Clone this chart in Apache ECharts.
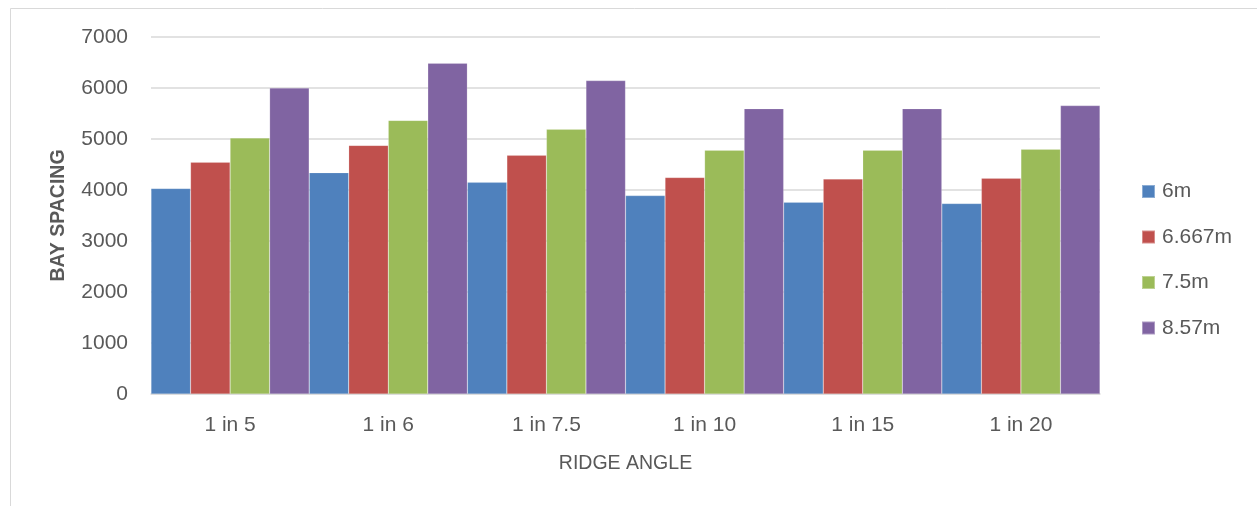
<!DOCTYPE html>
<html>
<head>
<meta charset="utf-8">
<script src="https://cdn.jsdelivr.net/npm/echarts@6/dist/echarts.min.js"></script>
<style>
  html, body { margin: 0; padding: 0; background: #fff; }
  #chart { width: 1257px; height: 506px; }
</style>
</head>
<body>
<div id="chart"></div>
<script>
// Ridge angle categories and bay spacing per span
const categories = ['1 in 5', '1 in 6', '1 in 7.5', '1 in 10', '1 in 15', '1 in 20'];
const seriesNames = ['6m', '6.667m', '7.5m', '8.57m'];
const span6 = [4030, 4340, 4150, 3890, 3760, 3735];
const span6667 = [4545, 4875, 4680, 4245, 4215, 4230];
const span75 = [5020, 5365, 5190, 4780, 4780, 4800];
const span857 = [6000, 6485, 6145, 5595, 5595, 5655];
const yTicks = [0, 1000, 2000, 3000, 4000, 5000, 6000, 7000];

const colors = ['#4F81BD', '#C0504D', '#9BBB59', '#8064A2'];
const values = [span6, span6667, span75, span857];
const font = '"Liberation Sans Narrow", "Arial Narrow", "Liberation Sans", sans-serif';
const textColor = '#595959';

const chart = echarts.init(document.getElementById('chart'));
chart.setOption({
  animation: false,
  backgroundColor: '#fff',
  graphic: [{
    type: 'rect',
    shape: { x: 10.5, y: 8.5, width: 1300, height: 600 },
    style: { fill: 'none', stroke: '#D9D9D9', lineWidth: 1 },
    silent: true
  }],
  grid: { left: 151, right: 157, top: 37, bottom: 112 },
  legend: {
    orient: 'vertical',
    left: 1141,
    top: 181,
    padding: 0,
    itemGap: 24.5,
    itemWidth: 13,
    itemHeight: 13,
    icon: 'rect',
    textStyle: { fontFamily: font, fontSize: 21, color: textColor, padding: [0, 0, 0, 2] },
    data: seriesNames
  },
  xAxis: {
    type: 'category',
    data: categories,
    name: 'RIDGE ANGLE',
    nameLocation: 'middle',
    nameGap: 60,
    nameTextStyle: { fontFamily: font, fontSize: 19.5, color: textColor },
    axisLine: { lineStyle: { color: '#D9D9D9', width: 1.5 } },
    axisTick: { show: false },
    axisLabel: { fontFamily: font, fontSize: 21, color: textColor, margin: 21 }
  },
  yAxis: {
    type: 'value',
    min: yTicks[0],
    max: yTicks[yTicks.length - 1],
    interval: 1000,
    name: 'BAY SPACING',
    nameLocation: 'middle',
    nameGap: 82,
    nameTextStyle: { fontFamily: font, fontSize: 19.5, fontWeight: 'bold', color: textColor },
    axisLine: { show: false },
    axisTick: { show: false },
    axisLabel: { fontFamily: font, fontSize: 21, color: textColor, margin: 23, formatter: v => String(v) },
    splitLine: { lineStyle: { color: '#D9D9D9', width: 1.5 } }
  },
  series: seriesNames.map((name, i) => ({
    name,
    type: 'bar',
    data: values[i],
    barGap: '0%',
    barCategoryGap: '0%',
    itemStyle: { color: colors[i], borderColor: 'rgba(255,255,255,0.35)', borderWidth: 0.5 }
  }))
});
</script>
</body>
</html>
